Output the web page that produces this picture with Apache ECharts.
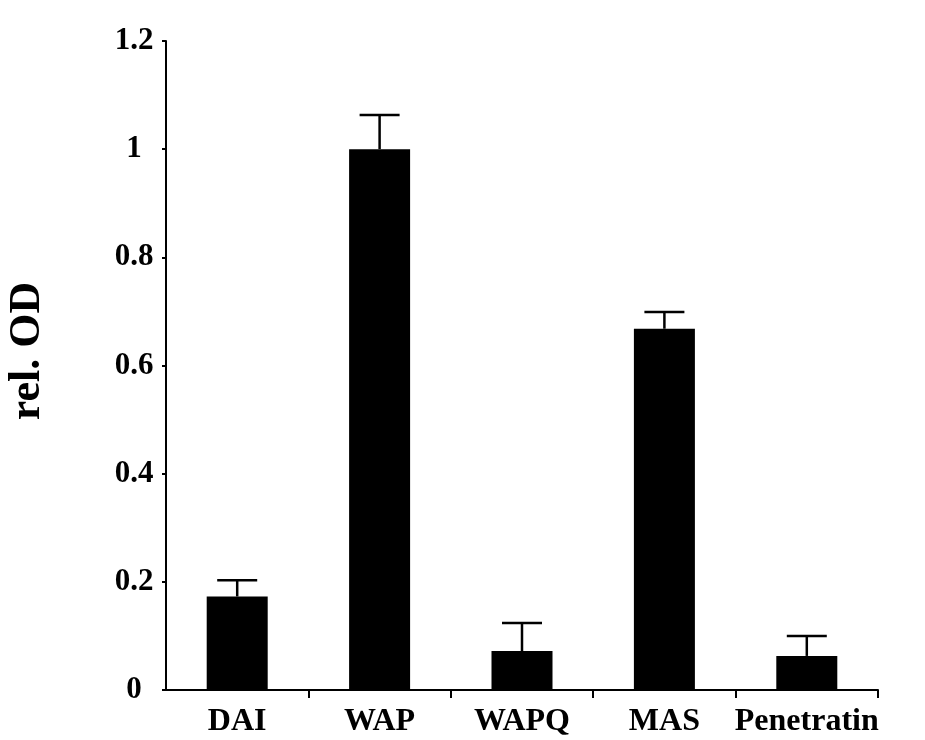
<!DOCTYPE html>
<html>
<head>
<meta charset="utf-8">
<script src="https://cdn.jsdelivr.net/npm/echarts@6/dist/echarts.min.js"></script>
<style>
  html, body { margin: 0; padding: 0; background: #fff; }
  #chart { width: 925px; height: 740px; }
</style>
</head>
<body>
<div id="chart"></div>
<script>
const categories = ["DAI", "WAP", "WAPQ", "MAS", "Penetratin"];
const relOD = [0.173, 1.0, 0.072, 0.668, 0.063];
const errorTop = [0.203, 1.063, 0.124, 0.699, 0.100];
const yTicks = { min: 0, max: 1.2, step: 0.2 };

const FONT = "'Liberation Serif', 'DejaVu Serif', serif";

const chart = echarts.init(document.getElementById("chart"));

function renderErrorBar(params, api) {
  const i = api.value(0);
  const base = api.coord([i, api.value(1)]);
  const top = api.coord([i, api.value(2)]);
  const half = 20;
  const style = { stroke: "#000", lineWidth: 2.5 };
  return {
    type: "group",
    children: [
      { type: "line", shape: { x1: base[0], y1: base[1], x2: top[0], y2: top[1] }, style },
      { type: "line", shape: { x1: top[0] - half, y1: top[1], x2: top[0] + half, y2: top[1] }, style },
    ],
  };
}

chart.setOption({
  animation: false,
  grid: { left: 166, right: 47, top: 41, bottom: 50 },
  xAxis: {
    type: "category",
    data: categories,
    axisLine: { show: true, lineStyle: { color: "#000", width: 2 } },
    axisTick: {
      show: true,
      length: 8,
      // no tick at the origin, the y axis sits there
      interval: (idx) => idx !== 0,
      lineStyle: { color: "#000", width: 2 },
    },
    axisLabel: {
      interval: 0,
      color: "#000",
      fontFamily: FONT,
      fontWeight: "bold",
      fontSize: 32,
      margin: 16,
    },
  },
  yAxis: {
    type: "value",
    min: yTicks.min,
    max: yTicks.max,
    interval: yTicks.step,
    splitLine: { show: false },
    axisLine: { show: true, lineStyle: { color: "#000", width: 2 } },
    axisTick: { show: true, length: 4, lineStyle: { color: "#000", width: 2 } },
    axisLabel: {
      color: "#000",
      fontFamily: FONT,
      fontWeight: "bold",
      fontSize: 31,
      align: "center",
      margin: 32,
    },
  },
  graphic: [
    {
      type: "text",
      x: 28,
      y: 351,
      rotation: Math.PI / 2,
      style: {
        text: "rel. OD",
        fill: "#000",
        font: "bold 44px " + FONT,
        textAlign: "center",
        textVerticalAlign: "middle",
      },
    },
  ],
  series: [
    {
      type: "bar",
      data: relOD,
      barWidth: 61,
      itemStyle: { color: "#000" },
      z: 2,
    },
    {
      type: "custom",
      data: categories.map((c, i) => [i, relOD[i], errorTop[i]]),
      renderItem: renderErrorBar,
      z: 3,
    },
  ],
});
</script>
</body>
</html>
